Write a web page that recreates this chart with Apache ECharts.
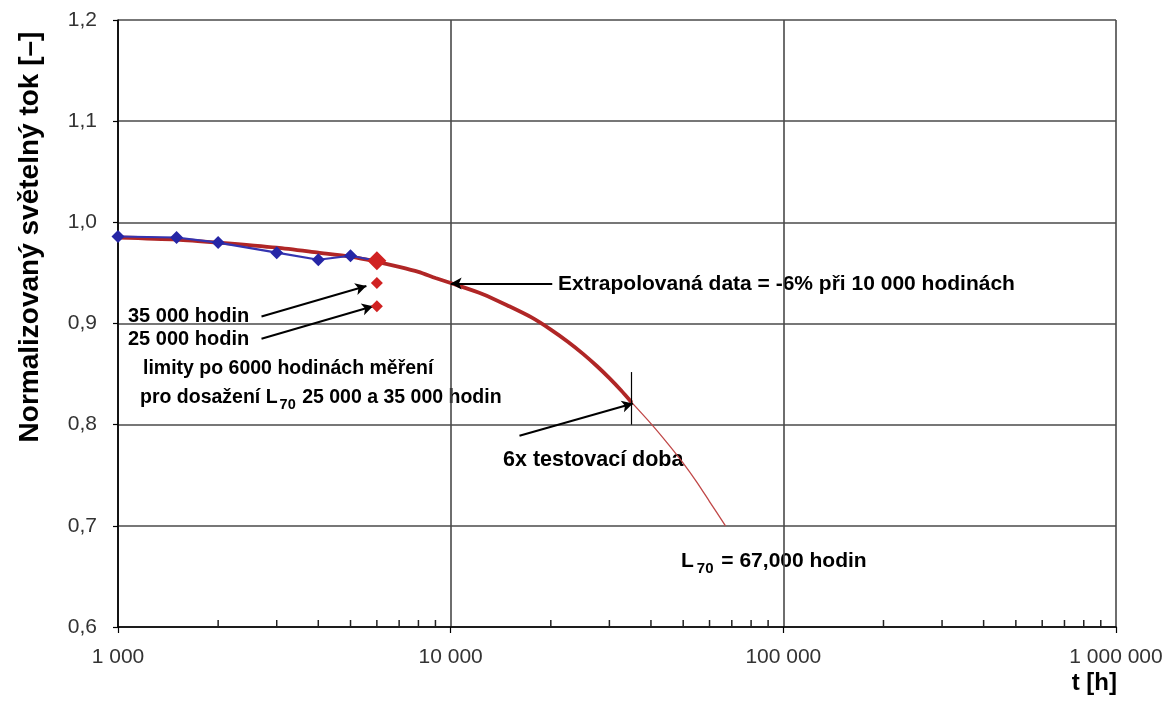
<!DOCTYPE html>
<html>
<head>
<meta charset="utf-8">
<script src="https://cdn.jsdelivr.net/npm/echarts@6/dist/echarts.min.js"></script>
<style>
html,body{margin:0;padding:0;background:#fff;}
#chart{width:1176px;height:711px;}
</style>
</head>
<body>
<div id="chart"></div>
<script>
// ---- data ----
const xTickValues = [1000, 10000, 100000, 1000000];
const yTickValues = [0.6, 0.7, 0.8, 0.9, 1.0, 1.1, 1.2];
const minorTickValues = [2000,3000,4000,5000,6000,7000,8000,9000,
  20000,30000,40000,50000,60000,70000,80000,90000,
  200000,300000,400000,500000,600000,700000,800000,900000];

const measuredT = [1000, 1500, 2000, 3000, 4000, 5000, 6000];
const measuredFlux = [0.986, 0.985, 0.980, 0.970, 0.963, 0.967, 0.962];

const fitT = [1000, 1500, 2000, 3000, 4000, 5000, 6000, 7000, 8000, 9000, 10000, 12500, 15000, 17500,
  20000, 22500, 25000, 27500, 30000, 32500, 35000];
const fitFlux = [0.985, 0.983, 0.980, 0.975, 0.970, 0.966, 0.961, 0.956, 0.951, 0.945, 0.940, 0.929, 0.917, 0.906,
  0.894, 0.882, 0.870, 0.858, 0.846, 0.834, 0.822];

const extT = [35000, 40000, 45000, 50000, 55000, 60000, 67000];
const extFlux = [0.822, 0.801, 0.781, 0.762, 0.743, 0.724, 0.700];

const limitT = [6000, 6000, 6000];
const limitFlux = [0.962, 0.940, 0.917];
const limitSize = [19, 12, 12];

// annotation arrows: [from t, from flux, to t, to flux]
const arrowFrom35 = [2700, 0.907, 5580, 0.937];
const arrowFrom25 = [2700, 0.885, 5840, 0.917];
const arrowExtrap = [20200, 0.9395, 10000, 0.9395];
const arrowTest = [16100, 0.789, 35300, 0.821];
const testMarker = [35000, 0.852, 35000, 0.800];

function pairs(xs, ys){ return xs.map((x,i)=>[x, ys[i]]); }
function fmtThousands(v){
  return String(Math.round(v)).replace(/\B(?=(\d{3})+(?!\d))/g, ' ');
}

const chart = echarts.init(document.getElementById('chart'), null, {renderer:'canvas'});

const labelFont = 'Liberation Sans, Arial, sans-serif';
const boldText = {fontFamily: labelFont, fontWeight: 'bold', fill: '#000'};

const option = {
  backgroundColor: '#fff',
  animation: false,
  grid: {left: 118, right: 60, top: 20, bottom: 84, containLabel: false},
  xAxis: {
    type: 'log', logBase: 10, min: 1000, max: 1000000,
    axisLine: {show: true, onZero: false, lineStyle: {color: '#000', width: 1.5}},
    axisTick: {show: true, inside: false, length: 6, lineStyle: {color: '#000', width: 1.2}},
    axisLabel: {
      margin: 20, fontSize: 21, color: '#333', fontFamily: labelFont,
      formatter: v => fmtThousands(v)
    },
    splitLine: {show: true, lineStyle: {color: '#4a4a4a', width: 1.6}},
    minorTick: {show: false}
  },
  yAxis: {
    type: 'value', min: 0.6, max: 1.2, interval: 0.1,
    axisLine: {show: true, onZero: false, lineStyle: {color: '#000', width: 1.5}},
    axisTick: {show: true, inside: false, length: 5, lineStyle: {color: '#000', width: 1.2}},
    axisLabel: {
      margin: 21, fontSize: 21, color: '#333', fontFamily: labelFont,
      formatter: v => v.toFixed(1).replace('.', ',')
    },
    splitLine: {show: true, lineStyle: {color: '#4a4a4a', width: 1.6}}
  },
  series: [
    {
      name: 'minor ticks', type: 'scatter', silent: true,
      data: minorTickValues.map(v => [v, yTickValues[0]]),
      symbol: 'rect', symbolSize: [1.5, 7], symbolOffset: [0, -3.5],
      itemStyle: {color: '#222', opacity: 1}, z: 3
    },
    {
      name: 'fit', type: 'line', silent: true, smooth: 0.25,
      data: pairs(fitT, fitFlux), showSymbol: false, symbol: 'none',
      lineStyle: {color: '#b02626', width: 3.8}, z: 4
    },
    {
      name: 'extrapolation', type: 'line', silent: true, smooth: 0.25,
      data: pairs(extT, extFlux), showSymbol: false, symbol: 'none',
      lineStyle: {color: '#c04848', width: 1.3}, z: 4,
      markLine: {
        silent: true, animation: false,
        symbol: ['none', 'arrow'], symbolSize: [9, 11],
        label: {show: false},
        lineStyle: {color: '#000', width: 2, type: 'solid'},
        data: [
          [{coord: [arrowFrom35[0], arrowFrom35[1]]}, {coord: [arrowFrom35[2], arrowFrom35[3]]}],
          [{coord: [arrowFrom25[0], arrowFrom25[1]]}, {coord: [arrowFrom25[2], arrowFrom25[3]]}],
          [{coord: [arrowExtrap[0], arrowExtrap[1]]}, {coord: [arrowExtrap[2], arrowExtrap[3]]}],
          [{coord: [arrowTest[0], arrowTest[1]]}, {coord: [arrowTest[2], arrowTest[3]]}],
          [{coord: [testMarker[0], testMarker[1]], symbol: 'none', lineStyle: {width: 1.2}},
           {coord: [testMarker[2], testMarker[3]], symbol: 'none'}]
        ]
      }
    },
    {
      name: 'measured', type: 'line', silent: true,
      data: pairs(measuredT, measuredFlux),
      symbol: 'diamond', symbolSize: 13, showSymbol: true,
      lineStyle: {color: '#3434b0', width: 2.2},
      itemStyle: {color: '#2626a6'}, z: 5
    },
    {
      name: 'limits', type: 'scatter', silent: true,
      data: limitT.map((t, i) => ({value: [t, limitFlux[i]], symbolSize: limitSize[i]})),
      symbol: 'diamond',
      itemStyle: {color: '#d02222', opacity: 1}, z: 6
    }
  ],
  graphic: [
    {type: 'text', x: 30, y: 237, rotation: Math.PI / 2, silent: true,
     style: {text: 'Normalizovaný světelný tok [–]', fontFamily: labelFont, fontWeight: 'bold',
             fontSize: 28, fill: '#000', textAlign: 'center', textVerticalAlign: 'middle'}},
    {type: 'text', x: 1117, y: 683, silent: true,
     style: Object.assign({text: 't [h]', fontSize: 24, textAlign: 'right', textVerticalAlign: 'middle'}, boldText)},
    {type: 'text', x: 128, y: 316, silent: true,
     style: Object.assign({text: '35 000 hodin', fontSize: 20, textVerticalAlign: 'middle'}, boldText)},
    {type: 'text', x: 128, y: 339, silent: true,
     style: Object.assign({text: '25 000 hodin', fontSize: 20, textVerticalAlign: 'middle'}, boldText)},
    {type: 'text', x: 143, y: 369, silent: true,
     style: Object.assign({text: 'limity po 6000 hodinách měření', fontSize: 19.5, textVerticalAlign: 'middle'}, boldText)},
    {type: 'text', x: 140, y: 388, silent: true,
     style: {text: '{a|pro dosažení L}{s|70}{a| 25 000 a 35 000 hodin}', fontFamily: labelFont,
             fontWeight: 'bold', fill: '#000',
             rich: {a: {fontSize: 19.5, fontWeight: 'bold', fontFamily: labelFont, verticalAlign: 'top', lineHeight: 22},
                    s: {fontSize: 14.5, fontWeight: 'bold', fontFamily: labelFont, verticalAlign: 'top', padding: [9, 1, 0, 2], lineHeight: 16}}}},
    {type: 'text', x: 558, y: 284, silent: true,
     style: Object.assign({text: 'Extrapolovaná data = -6% při 10 000 hodinách', fontSize: 21, textVerticalAlign: 'middle'}, boldText)},
    {type: 'text', x: 503, y: 460, silent: true,
     style: Object.assign({text: '6x testovací doba', fontSize: 21.5, textVerticalAlign: 'middle'}, boldText)},
    {type: 'text', x: 681, y: 551, silent: true,
     style: {text: '{a|L}{s|70}{a| = 67,000 hodin}', fontFamily: labelFont, fontWeight: 'bold', fill: '#000',
             rich: {a: {fontSize: 21, fontWeight: 'bold', fontFamily: labelFont, verticalAlign: 'top', lineHeight: 24},
                    s: {fontSize: 15, fontWeight: 'bold', fontFamily: labelFont, verticalAlign: 'top', padding: [10, 2, 0, 3], lineHeight: 17}}}}
  ]
};
chart.setOption(option);
</script>
</body>
</html>
